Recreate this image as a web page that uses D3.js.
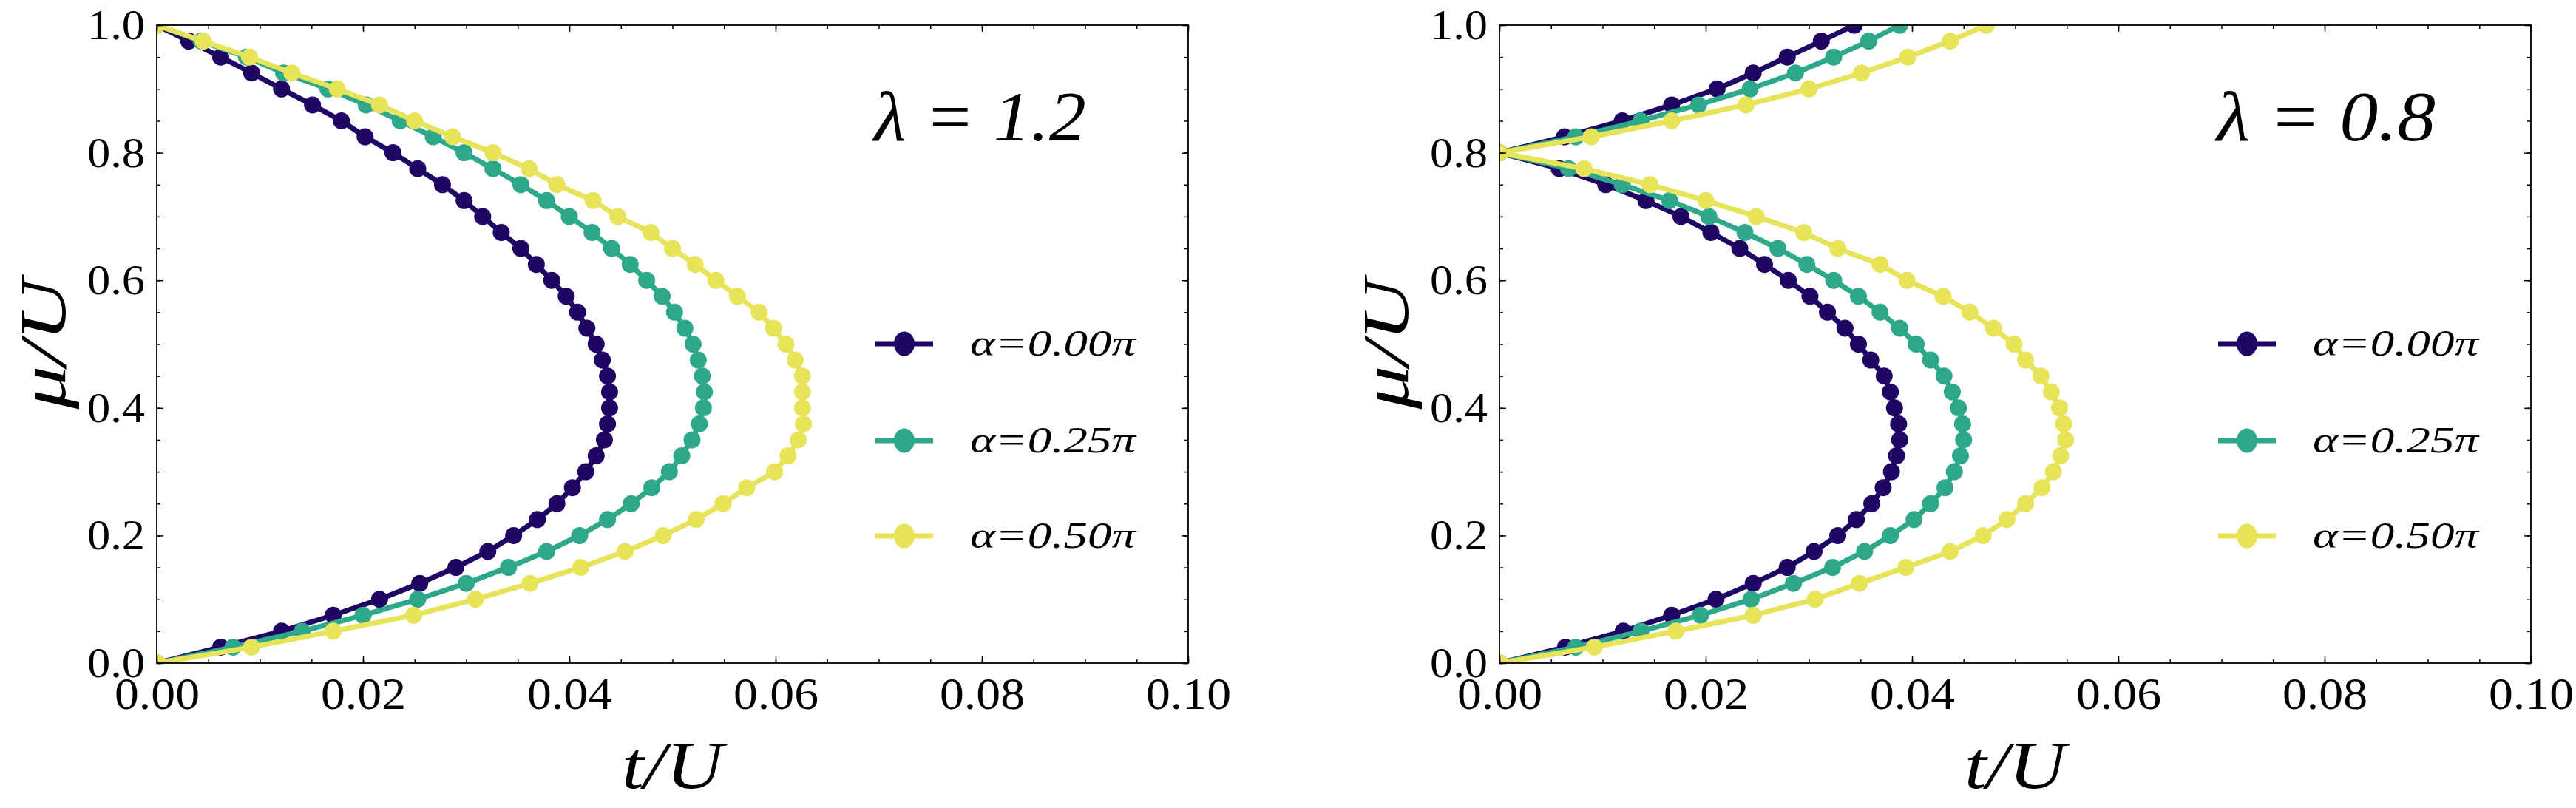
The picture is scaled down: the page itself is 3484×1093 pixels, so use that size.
<!DOCTYPE html>
<html>
<head>
<meta charset="utf-8">
<script src="https://cdn.jsdelivr.net/npm/d3@7"></script>
<style>
  html, body { margin: 0; padding: 0; background: #fff; }
  svg { display: block; }
  text {
    font-family: "Liberation Serif", "Tinos", "Times New Roman", "Times", "Nimbus Roman",
      "FreeSerif", "Noto Serif", "DejaVu Serif", serif;
    fill: #000;
  }
</style>
</head>
<body>
<div id="chart"></div>
<script>
// mu/U grid shared by every curve
const muGrid = [0, 0.025, 0.05, 0.075, 0.1, 0.125, 0.15, 0.175, 0.2, 0.225,
  0.25, 0.275, 0.3, 0.325, 0.35, 0.375, 0.4, 0.425, 0.45, 0.475,
  0.5, 0.525, 0.55, 0.575, 0.6, 0.625, 0.65, 0.675, 0.7, 0.725,
  0.75, 0.775, 0.8, 0.825, 0.85, 0.875, 0.9, 0.925, 0.95, 0.975, 1.0]

// t/U at each mu, lambda = 1.2
const tL12a000 = [0, 0.0062, 0.0121, 0.0171, 0.0216, 0.0255, 0.0290, 0.0321, 0.0346, 0.0369,
  0.0388, 0.0403, 0.0416, 0.0426, 0.0434, 0.0437, 0.0439, 0.0439, 0.0437, 0.0432,
  0.0426, 0.0417, 0.0408, 0.0397, 0.0383, 0.0368, 0.0353, 0.0334, 0.0316, 0.0298,
  0.0277, 0.0253, 0.0229, 0.0202, 0.0179, 0.0151, 0.0121, 0.0092, 0.0062, 0.0031, 0]
const tL12a025 = [0, 0.0074, 0.0141, 0.0200, 0.0253, 0.0300, 0.0341, 0.0378, 0.0410, 0.0437,
  0.0460, 0.0480, 0.0497, 0.0509, 0.0519, 0.0526, 0.0530, 0.0531, 0.0529, 0.0525,
  0.0520, 0.0512, 0.0502, 0.0490, 0.0475, 0.0459, 0.0441, 0.0422, 0.0400, 0.0378,
  0.0353, 0.0326, 0.0298, 0.0268, 0.0236, 0.0203, 0.0166, 0.0123, 0.0087, 0.0043, 0]
const tL12a050 = [0, 0.0092, 0.0171, 0.0249, 0.0309, 0.0362, 0.0411, 0.0454, 0.0491, 0.0523,
  0.0549, 0.0572, 0.0599, 0.0612, 0.0622, 0.0627, 0.0626, 0.0626, 0.0626, 0.0619,
  0.0610, 0.0598, 0.0584, 0.0563, 0.0542, 0.0522, 0.0500, 0.0479, 0.0447, 0.0423,
  0.0388, 0.0361, 0.0326, 0.0287, 0.0250, 0.0216, 0.0175, 0.0131, 0.0090, 0.0045, 0]

// t/U at each mu, lambda = 0.8
const tL08a000 = [0, 0.0064, 0.0120, 0.0167, 0.0210, 0.0246, 0.0279, 0.0305, 0.0328, 0.0346,
  0.0361, 0.0372, 0.0380, 0.0385, 0.0388, 0.0387, 0.0383, 0.0379, 0.0373, 0.0360,
  0.0348, 0.0335, 0.0318, 0.0301, 0.0280, 0.0257, 0.0233, 0.0205, 0.0176, 0.0142,
  0.0103, 0.0058, 0, 0.0063, 0.0119, 0.0167, 0.0211, 0.0246, 0.0279, 0.0312, 0.0344]
const tL08a025 = [0, 0.0074, 0.0137, 0.0195, 0.0244, 0.0285, 0.0323, 0.0354, 0.0379, 0.0402,
  0.0418, 0.0432, 0.0441, 0.0447, 0.0450, 0.0449, 0.0445, 0.0439, 0.0431, 0.0418,
  0.0404, 0.0388, 0.0369, 0.0348, 0.0324, 0.0298, 0.0270, 0.0238, 0.0203, 0.0165,
  0.0119, 0.0067, 0, 0.0074, 0.0137, 0.0193, 0.0243, 0.0287, 0.0324, 0.0358, 0.0388]
const tL08a050 = [0, 0.0092, 0.0171, 0.0246, 0.0306, 0.0349, 0.0394, 0.0437, 0.0469, 0.0492,
  0.0510, 0.0526, 0.0537, 0.0544, 0.0549, 0.0547, 0.0543, 0.0535, 0.0525, 0.0510,
  0.0499, 0.0479, 0.0456, 0.0430, 0.0395, 0.0369, 0.0328, 0.0295, 0.0249, 0.0200,
  0.0146, 0.0082, 0, 0.0089, 0.0167, 0.0239, 0.0300, 0.0351, 0.0396, 0.0437, 0.0472]

const alphaLabels = ["α=0.00π", "α=0.25π", "α=0.50π"]
const lambdaLabels = ["λ = 1.2", "λ = 0.8"]
const seriesColors = ["#200664", "#2ea88a", "#e8e45a"]
const xTickLabels = ["0.00", "0.02", "0.04", "0.06", "0.08", "0.10"]
const yTickLabels = ["0.0", "0.2", "0.4", "0.6", "0.8", "1.0"]

const panelSeries = [
  [tL12a000, tL12a025, tL12a050],
  [tL08a000, tL08a025, tL08a050]
]

const W = 3484, H = 1093
const panelLeft = [212, 2028]
const plotTop = 34, pw = 1395, ph = 863

var svg = d3.select("#chart").append("svg")
  .attr("width", W)
  .attr("height", H)
svg.append("rect").attr("width", W).attr("height", H).attr("fill", "#fff")

// squeeze/stretch a text to the width it has in the picture
function fit(sel, len) {
  sel.attr("textLength", len).attr("lengthAdjust", "spacingAndGlyphs")
}

panelLeft.forEach(function (left, pi) {
  var g = svg.append("g").attr("transform", "translate(" + left + "," + plotTop + ")")

  var x = d3.scaleLinear().domain([0, 0.1]).range([0, pw])
  var y = d3.scaleLinear().domain([0, 1]).range([ph, 0])
  var xMajor = xTickLabels.map(Number), yMajor = yTickLabels.map(Number)

  // clip for the data
  var clipId = "clip" + pi
  g.append("clipPath").attr("id", clipId)
    .append("rect").attr("width", pw).attr("height", ph)

  var data = g.append("g").attr("clip-path", "url(#" + clipId + ")")
  var line = d3.line()
    .x(function (d) { return x(d[0]) })
    .y(function (d) { return y(d[1]) })

  panelSeries[pi].forEach(function (ts, si) {
    var pts = ts.map(function (t, i) { return [t, muGrid[i]] })
    var sg = data.append("g")
    sg.append("path")
      .attr("d", line(pts))
      .attr("fill", "none")
      .attr("stroke", seriesColors[si])
      .attr("stroke-width", 7)
      .attr("stroke-linejoin", "round")
    sg.selectAll("circle").data(pts).enter().append("circle")
      .attr("cx", function (d) { return x(d[0]) })
      .attr("cy", function (d) { return y(d[1]) })
      .attr("r", 11.5)
      .attr("fill", seriesColors[si])
  })

  // frame ticks, inward on all four sides
  function ticks(axis, tr, vals, size) {
    var a = g.append("g").attr("transform", tr)
      .call(axis.tickValues(vals).tickSize(-size).tickFormat(""))
    a.select(".domain").remove()
    a.selectAll("line").attr("stroke", "#000").attr("stroke-width", 1.5)
  }
  var xMinor = x.ticks(20), yMinor = y.ticks(20)
  ticks(d3.axisBottom(x), "translate(0," + ph + ")", xMinor, 5)
  ticks(d3.axisTop(x), "translate(0,0)", xMinor, 5)
  ticks(d3.axisLeft(y), "translate(0,0)", yMinor, 5)
  ticks(d3.axisRight(y), "translate(" + pw + ",0)", yMinor, 5)
  ticks(d3.axisBottom(x), "translate(0," + ph + ")", xMajor, 9)
  ticks(d3.axisTop(x), "translate(0,0)", xMajor, 9)
  ticks(d3.axisLeft(y), "translate(0,0)", yMajor, 9)
  ticks(d3.axisRight(y), "translate(" + pw + ",0)", yMajor, 9)

  // tick labels
  var xAx = g.append("g").attr("transform", "translate(0," + ph + ")")
    .call(d3.axisBottom(x).tickValues(xMajor).tickSize(0).tickPadding(18)
      .tickFormat(function (d, i) { return xTickLabels[i] }))
  xAx.select(".domain").remove()
  xAx.attr("font-family", null)
  xAx.selectAll("text").style("font-size", "62px").call(fit, 115)

  var yAx = g.append("g")
    .call(d3.axisLeft(y).tickValues(yMajor).tickSize(0).tickPadding(16)
      .tickFormat(function (d, i) { return yTickLabels[i] }))
  yAx.select(".domain").remove()
  yAx.attr("font-family", null)
  yAx.selectAll("text").style("font-size", "58px").call(fit, 78)

  g.append("rect")
    .attr("width", pw).attr("height", ph)
    .attr("fill", "none").attr("stroke", "#000").attr("stroke-width", 1.8)

  // axis titles
  g.append("text")
    .attr("x", pw / 2).attr("y", 1066 - plotTop)
    .attr("text-anchor", "middle")
    .style("font-size", "92px").style("font-style", "italic")
    .text("t/U").call(fit, 137)
  g.append("text")
    .attr("transform", "translate(-124," + (ph / 2) + ") rotate(-90)")
    .attr("text-anchor", "middle")
    .style("font-size", "88px").style("font-style", "italic")
    .text("μ/U").call(fit, 176)

  // lambda label
  g.append("text")
    .attr("x", 970).attr("y", 156)
    .style("font-size", "96px").style("font-style", "italic")
    .text(lambdaLabels[pi]).call(fit, pi === 0 ? 287 : 296)

  // legend
  var rows = [431, 562, 691]
  alphaLabels.forEach(function (lab, i) {
    var lg = g.append("g").attr("transform", "translate(0," + rows[i] + ")")
    lg.append("line").attr("x1", 972).attr("x2", 1050)
      .attr("stroke", seriesColors[i]).attr("stroke-width", 7)
    lg.append("ellipse").attr("cx", 1011).attr("rx", 14).attr("ry", 16.5)
      .attr("fill", seriesColors[i])
    lg.append("text").attr("x", 1100).attr("y", 16)
      .style("font-size", "51px").style("font-style", "italic")
      .text(lab).call(fit, 224)
  })
})
</script>
</body>
</html>
